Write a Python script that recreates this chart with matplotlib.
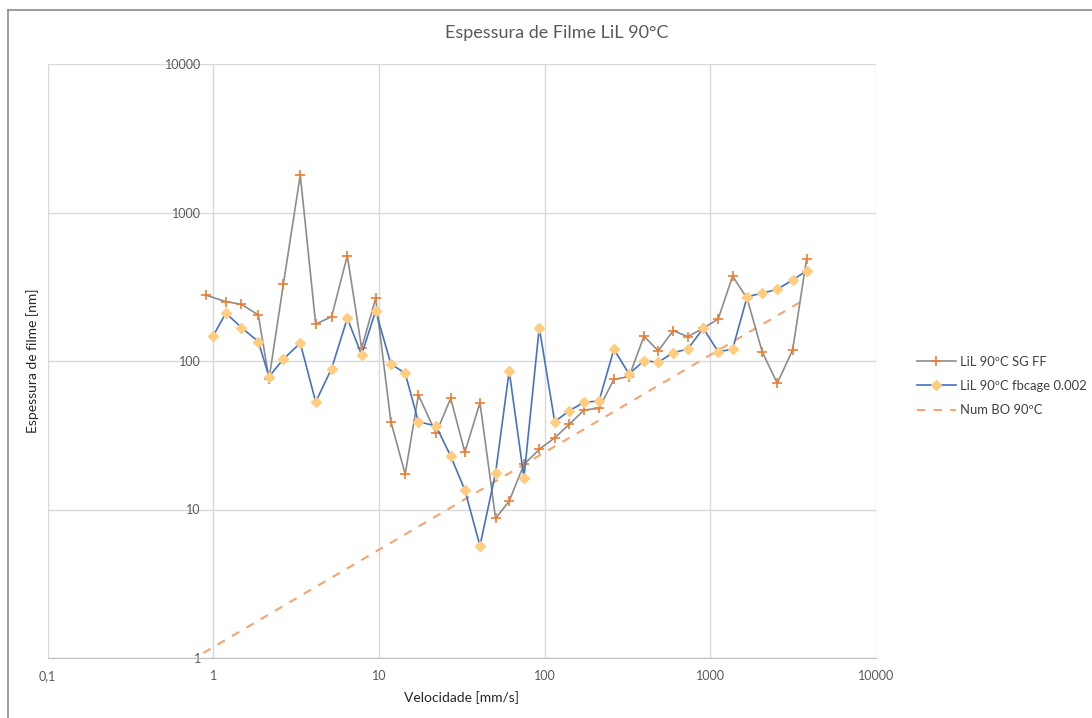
import matplotlib.pyplot as plt
from matplotlib.lines import Line2D
from matplotlib.ticker import FixedLocator, FixedFormatter, NullLocator

# velocities [mm/s] (log scale)
velocidade = [0.90, 1.19, 1.48, 1.87, 2.17, 2.65, 3.35, 4.15, 5.18, 6.44,
              7.86, 9.55, 11.8, 14.4, 17.3, 22.1, 27.1, 33.0, 40.7, 50.6,
              61.1, 75.0, 92.8, 115, 141, 173, 213, 262, 323, 398,
              485, 597, 730, 906, 1116, 1363, 1668, 2055, 2535, 3140, 3810]
velocidade_cage = [1.00] + velocidade[1:]

# film thickness [nm]
espessura_sg = [278, 251, 241, 204, 75.7, 330, 1790, 177, 199, 512,
                122, 264, 39, 17.3, 59, 32.6, 56, 24.3, 52.4, 8.7,
                11.4, 20.1, 25.4, 30.4, 37.5, 46.8, 48, 75.3, 78.4, 147,
                117, 160, 146, 166, 192, 373, 264, 115.5, 70.8, 118.6, 486]
espessura_cage = [148, 210, 168, 135, 78.4, 103, 132, 53, 89, 194,
                  110, 218, 95.5, 82.6, 39, 36.5, 22.9, 13.5, 5.7, 17.7,
                  85.7, 16.4, 168, 39, 46.3, 52.7, 53.8, 120, 81.8, 100.5,
                  98, 114, 120, 166, 115.5, 120, 271, 286, 304, 351, 405]

# numerical prediction (straight line in log-log), end points
velocidade_num = [0.87, 3810]
espessura_num = [1.08, 264]

ticks = [0.1, 1, 10, 100, 1000, 10000]
x_labels = ['0,1', '1', '10', '100', '1000', '10000']
y_ticks = [1, 10, 100, 1000, 10000]
y_labels = ['1', '10', '100', '1000', '10000']

plt.rcParams['font.family'] = ['Lato', 'DejaVu Sans']
txt = '#595959'
grid = '#d9d9d9'

fig = plt.figure(figsize=(10.92, 7.18), dpi=100)
ax = fig.add_axes([47.6 / 1092, 1 - 658 / 718, (876 - 47.6) / 1092, (658 - 64) / 718])

ax.plot(velocidade, espessura_sg, color='#8c8c8c', lw=1.2, marker='+',
        markersize=7.5, markeredgewidth=1.2, markeredgecolor='#ed7d31',
        label='LiL 90ºC SG FF', zorder=3)
ax.plot(velocidade_cage, espessura_cage, color='#4472c4', lw=1.2, marker='D',
        markersize=5, markerfacecolor='#ffcc80', markeredgecolor='#ffcc80',
        label='LiL 90ºC fbcage 0.002', zorder=4)
ax.plot(velocidade_num, espessura_num, color='#f4a46c', lw=1.5,
        dashes=(4, 4), label='Num BO 90ºC', zorder=2)

ax.set_xscale('log')
ax.set_yscale('log')
ax.set_xlim(0.1, 10000)
ax.set_ylim(1, 10000)
ax.xaxis.set_major_locator(FixedLocator(ticks))
ax.xaxis.set_major_formatter(FixedFormatter(x_labels))
ax.yaxis.set_major_locator(FixedLocator(y_ticks))
ax.yaxis.set_major_formatter(FixedFormatter(y_labels))
ax.xaxis.set_minor_locator(NullLocator())
ax.yaxis.set_minor_locator(NullLocator())

ax.grid(True, color=grid, lw=1.0)
ax.set_axisbelow(True)
for s in ['top', 'right']:
    ax.spines[s].set_visible(False)
ax.spines['left'].set_position(('data', 1))
ax.spines['left'].set_color(grid)
ax.spines['bottom'].set_color('#bfbfbf')
ax.tick_params(axis='both', length=0, labelsize=9, labelcolor=txt)
ax.tick_params(axis='x', pad=9)
ax.tick_params(axis='y', pad=9)

ax.set_xlabel('Velocidade [mm/s]', fontsize=10, color='#262626', labelpad=6)
ax.set_ylabel('Espessura de filme [nm]', fontsize=10, color='#262626')
ax.yaxis.set_label_coords(-0.010, 0.5)

fig.text(557 / 1092, 1 - 33 / 718, 'Espessura de Filme LiL 90°C',
         fontsize=13, color=txt, ha='center', va='center')

ax.legend(loc='center left', bbox_to_anchor=(905 / 1092, 1 - 386 / 718),
          bbox_transform=fig.transFigure, frameon=False, fontsize=9.4,
          labelcolor='#404040', handlelength=3.0, handletextpad=0.3,
          labelspacing=0.95)

# chart frame (only left and top edges visible)
fig.add_artist(Line2D([8 / 1092, 8 / 1092], [0, 1 - 10 / 718],
                      transform=fig.transFigure, color='#8c8c8c', lw=1.2))
fig.add_artist(Line2D([8 / 1092, 1], [1 - 10 / 718, 1 - 10 / 718],
                      transform=fig.transFigure, color='#8c8c8c', lw=1.2))

fig.savefig('out.png', dpi=100)
